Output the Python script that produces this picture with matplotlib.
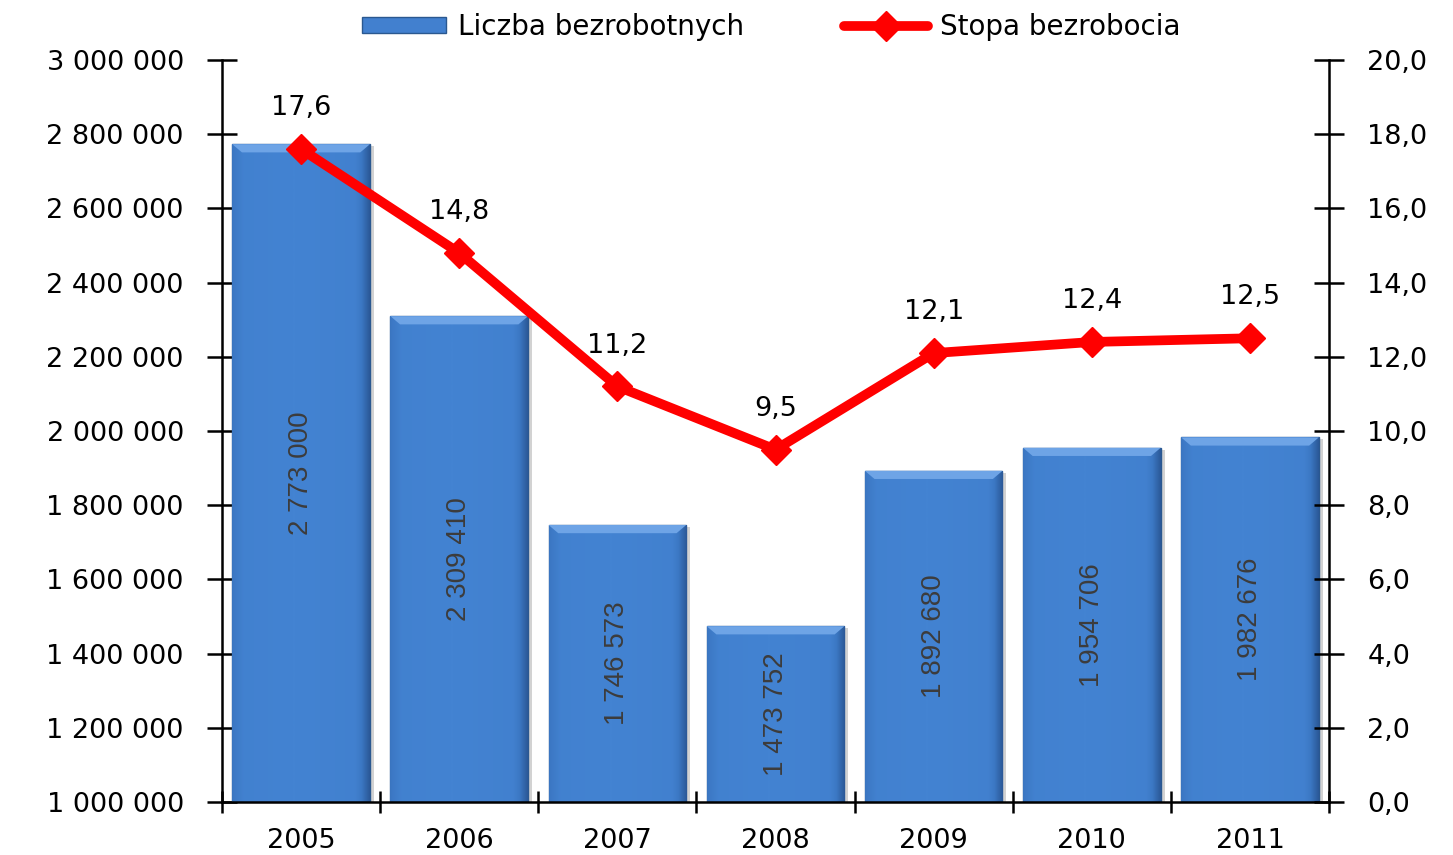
import numpy as np
import matplotlib.pyplot as plt
from matplotlib.colors import LinearSegmentedColormap
from matplotlib.patches import Polygon
from matplotlib.ticker import FuncFormatter

# data
years = ['2005', '2006', '2007', '2008', '2009', '2010', '2011']
unemployed = [2773000, 2309410, 1746573, 1473752, 1892680, 1954706, 1982676]
rate = [17.6, 14.8, 11.2, 9.5, 12.1, 12.4, 12.5]

plt.rcParams['font.family'] = ['DejaVu Sans']

fig = plt.figure(figsize=(14.53, 8.55), dpi=100)
ax = fig.add_axes([0.1528, 0.0620, 0.7619, 0.8678])
ax2 = ax.twinx()

x = np.arange(len(years))
base = 1000000
bars = ax.bar(x, [v - base for v in unemployed], bottom=base, width=0.87,
              color='#4280cf', edgecolor='#2a5890', linewidth=1.0, zorder=2,
              label='Liczba bezrobotnych')

# fake the bevel look: flat middle, darker sides
bar_cmap = LinearSegmentedColormap.from_list('bars', ['#4383d2', '#3c78c4', '#2b5998'])
t = np.linspace(0, 1, 256)
grad = np.maximum(np.clip((0.1 - t) / 0.1, 0, 1) * 0.55, np.clip((t - 0.88) / 0.12, 0, 1))
grad = np.maximum(grad, 0.25 * np.abs(t - 0.45)).reshape(1, -1)
for b in bars:
    bx, by = b.get_x(), b.get_y()
    bw, bh = b.get_width(), b.get_height()
    im = ax.imshow(grad, extent=[bx, bx + bw, by, by + bh], aspect='auto',
                   cmap=bar_cmap, vmin=0, vmax=1, zorder=2.1, origin='lower')
    im.set_clip_path(b)
    # lighter top bevel (trapezoid)
    top = by + bh
    bev = 22000
    ax.add_patch(Polygon([(bx, top), (bx + bw, top), (bx + bw * 0.93, top - bev),
                          (bx + bw * 0.07, top - bev)], closed=True,
                         facecolor='#6ea4e6', edgecolor='none', zorder=2.2))
    # soft shadow to the right
    ax.bar(bx + bw / 2 + 0.025, bh, bottom=by - 5000, width=bw, color='#d2d2d2',
           linewidth=0, zorder=1.5)

for xi, v in zip(x, unemployed):
    lbl = f'{v:,}'.replace(',', ' ')
    ax.text(xi, (base + v) / 2, lbl, rotation=90, ha='center', va='center',
            fontsize=20, color='#3c3c3c', zorder=3, family='Liberation Sans')

ax.set_xlim(-0.5, len(years) - 0.5)
ax.set_ylim(base, 3000000)
ax.set_yticks(np.arange(base, 3000001, 200000))
ax.yaxis.set_major_formatter(FuncFormatter(lambda v, p: f'{int(v):,}'.replace(',', ' ')))
ax.set_xticks(x)
ax.set_xticklabels(years)
ax.set_xticks(np.arange(-0.5, len(years), 1), minor=True)
ax.tick_params(axis='x', which='major', length=0, labelsize=19.5, pad=19)
ax.tick_params(axis='x', which='minor', direction='inout', length=16, width=1.8)
ax.tick_params(axis='y', direction='inout', length=21, width=1.8, labelsize=19.5, pad=17)

ax2.plot(x, rate, color='#ff0000', linewidth=7, marker='D', markersize=15,
         zorder=5, label='Stopa bezrobocia', solid_capstyle='round')
for xi, r in zip(x, rate):
    ax2.text(xi, r + 0.75, f'{r:.1f}'.replace('.', ','), ha='center', va='bottom',
             fontsize=19.5, color='black')
ax2.set_ylim(0, 20)
ax2.set_yticks(np.arange(0, 20.1, 2))
ax2.yaxis.set_major_formatter(FuncFormatter(lambda v, p: f'{v:.1f}'.replace('.', ',')))
ax2.tick_params(axis='y', direction='inout', length=21, width=1.8, labelsize=19.5, pad=17)

for a in (ax, ax2):
    a.spines['top'].set_visible(False)
    for s in ('left', 'right', 'bottom'):
        a.spines[s].set_linewidth(1.8)
ax2.spines['left'].set_visible(False)
ax2.spines['bottom'].set_visible(False)
ax.spines['right'].set_visible(False)

h1, l1 = ax.get_legend_handles_labels()
h2, l2 = ax2.get_legend_handles_labels()
fig.legend(h1 + h2, l1 + l2, loc='upper center', bbox_to_anchor=(0.531, 1.014),
           ncol=2, frameon=False, fontsize=20, handlelength=3.0, handleheight=0.5,
           columnspacing=3.6, handletextpad=0.45)

fig.savefig('out.png', dpi=100)
